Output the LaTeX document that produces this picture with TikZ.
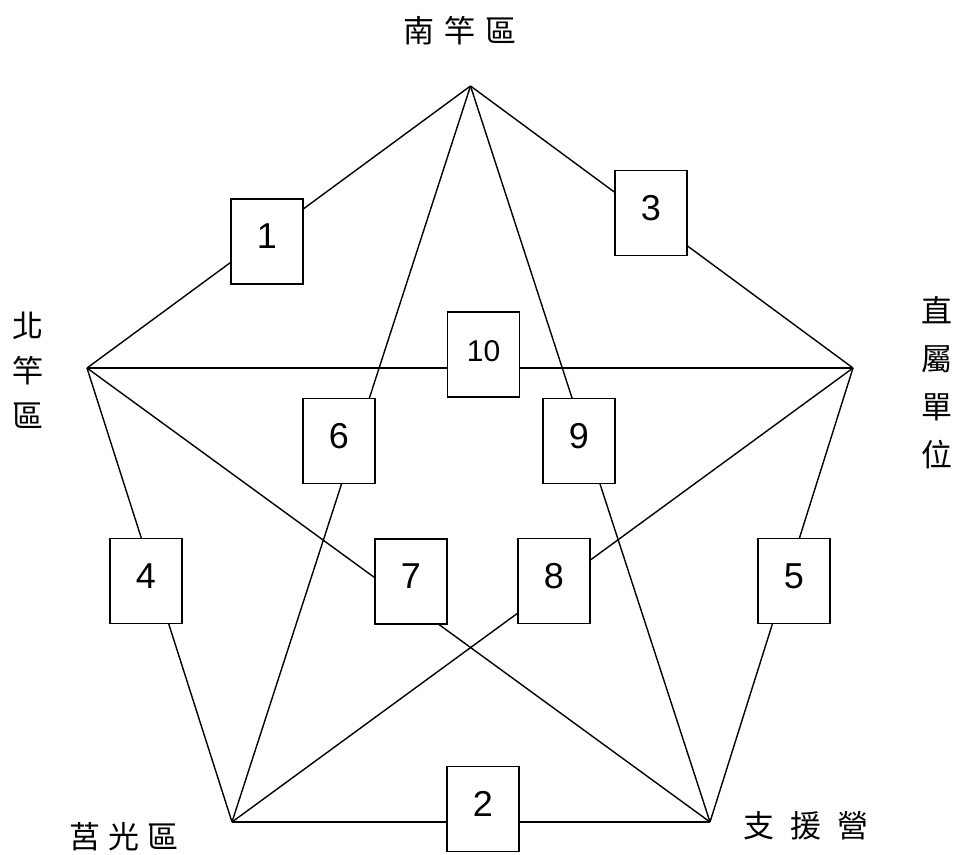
\documentclass[tikz,border=0pt]{standalone}
\usepackage{fontspec}
\setmainfont{Liberation Sans}
\newfontfamily\cjk{Noto Sans CJK TC}
\begin{document}
\begin{tikzpicture}[x=1pt,y=-1pt,
  edge/.style={line width=1.4pt,black},
  numbox/.style={draw,line width=1.4pt,fill=white,minimum width=72pt,minimum height=85pt,inner sep=0pt,
    font=\fontsize{36}{36}\selectfont,text height=26pt,text depth=12pt},
  lbl/.style={font=\cjk\fontsize{31}{31}\selectfont,inner sep=0pt}]
\useasboundingbox (0,0) rectangle (958,854);
\coordinate (T) at (470.5,86);
\coordinate (L) at (87,368);
\coordinate (R) at (853,368);
\coordinate (BL) at (232,822);
\coordinate (BR) at (710,822);
\draw[edge] (T) -- (L);
\draw[edge] (T) -- (R);
\draw[edge] (L) -- (BL);
\draw[edge] (R) -- (BR);
\draw[edge] (BL) -- (BR);
\draw[edge] (L) -- (R);
\draw[edge] (T) -- (BL);
\draw[edge] (T) -- (BR);
\draw[edge] (L) -- (BR);
\draw[edge] (R) -- (BL);
\node[numbox] (b1) at (267,241.5) {1};
\node[numbox] (b3) at (651,213) {3};
\node[numbox,font=\fontsize{30}{30}\selectfont] (b10) at (483.5,354.5) {10};
\node[numbox] (b6) at (339,441) {6};
\node[numbox] (b9) at (579,441) {9};
\node[numbox] (b4) at (146,581) {4};
\node[numbox] (b7) at (411,581.5) {7};
\node[numbox] (b8) at (554,581) {8};
\node[numbox] (b5) at (794,581) {5};
\node[numbox] (b2) at (483,809) {2};
\node[lbl] (nt) at (460,31) {南\hspace{10pt}竿\hspace{10pt}區};
\node[lbl,align=center] (nl) at (28,370) {北\\[14pt]竿\\[14pt]區};
\node[lbl,align=center] (nr) at (937,383) {直\\[17pt]屬\\[17pt]單\\[17pt]位};
\node[lbl] (nbl) at (124,837) {莒\hspace{8pt}光\hspace{8pt}區};
\node[lbl] (nbr) at (806,826) {支\hspace{16pt}援\hspace{16pt}營};
\end{tikzpicture}
\end{document}
